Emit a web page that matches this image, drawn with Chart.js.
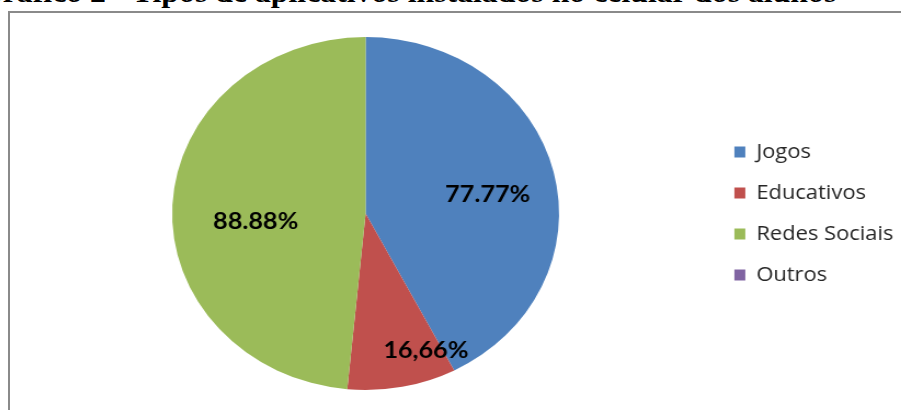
<!DOCTYPE html>
<html>
<head>
<meta charset="utf-8">
<script src="https://cdn.jsdelivr.net/npm/chart.js@4.4.0/dist/chart.umd.min.js"></script>
<style>
  body { margin: 0; background: #fff; width: 901px; height: 410px; overflow: hidden; position: relative; }
  #titulo { position: absolute; left: -22px; top: -22px; font: bold 29px/1 "Liberation Serif", serif; color: #000; white-space: nowrap; transform: scaleX(1.096); transform-origin: 0 0; }
  #moldura { position: absolute; left: 8px; top: 11px; width: 920px; height: 420px; border: 2px solid #8a8a8a; box-sizing: border-box; }
  #area { position: absolute; left: 10px; top: 13px; width: 820px; height: 397px; transform: scaleX(1.096); transform-origin: 0 0; }
</style>
</head>
<body>
<div id="titulo">Gráfico 2 - Tipos de aplicativos instalados no celular dos alunos</div>
<div id="moldura"></div>
<div id="area"><canvas id="grafico"></canvas></div>
<script>
const categorias = ['Jogos', 'Educativos', 'Redes Sociais', 'Outros'];
const valores = [77.77, 16.66, 88.88, 0];
const rotulos = ['77.77%', '16,66%', '88.88%', ''];
const cores = ['#4f81bd', '#c0504d', '#9bbb59', '#8064a2'];

// onde cada rótulo fica dentro da fatia: fração do raio e desvio do ângulo (graus)
const rotuloRaio = [0.64, 0.835, 0.57, 0.5];
const rotuloDesvio = [4, -11, -7.5, 0];

const rotulosPlugin = {
  id: 'rotulosFatias',
  afterDatasetsDraw(chart) {
    const ctx = chart.ctx;
    const meta = chart.getDatasetMeta(0);
    ctx.save();
    ctx.font = 'bold 23px Lato';
    ctx.fillStyle = '#000';
    ctx.textAlign = 'center';
    ctx.textBaseline = 'middle';
    meta.data.forEach((arco, i) => {
      if (!rotulos[i]) return;
      const p = arco.getProps(['x', 'y', 'startAngle', 'endAngle', 'outerRadius'], true);
      const ang = (p.startAngle + p.endAngle) / 2 + rotuloDesvio[i] * Math.PI / 180;
      const r = p.outerRadius * rotuloRaio[i];
      ctx.fillText(rotulos[i], p.x + Math.cos(ang) * r, p.y + Math.sin(ang) * r);
    });
    ctx.restore();
  }
};

const ctx = document.getElementById('grafico').getContext('2d');
let grafico = new Chart(ctx, {
  type: 'pie',
  data: {
    labels: categorias,
    datasets: [{
      data: valores,
      backgroundColor: cores,
      borderWidth: 0
    }]
  },
  options: {
    responsive: true,
    maintainAspectRatio: false,
    animation: false,
    layout: { padding: { top: 24, bottom: 20, left: 9, right: 4 } },
    plugins: {
      legend: {
        position: 'right',
        labels: {
          boxWidth: 10,
          boxHeight: 11,
          padding: 21,
          color: '#262626',
          font: { family: 'Open Sans', size: 20 }
        }
      },
      tooltip: { enabled: false }
    }
  },
  plugins: [rotulosPlugin]
});
</script>
</body>
</html>
